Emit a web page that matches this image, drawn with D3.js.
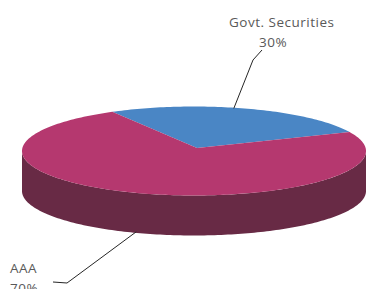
<!DOCTYPE html>
<html>
<head>
<meta charset="utf-8">
<script src="https://cdn.jsdelivr.net/npm/d3@7"></script>
<style>
  html, body { margin: 0; padding: 0; background: #fff; }
  svg { display: block; }
  text { font-family: "Open Sans", sans-serif; font-size: 13.5px; letter-spacing: 0.5px; fill: #595959; }
</style>
</head>
<body>
<svg id="chart" width="367" height="289"></svg>
<script>
const categories = ["Govt. Securities", "AAA"];
const values = [30, 70];
const pctLabels = ["30%", "70%"];

const topColors = ["#4a86c5", "#b5386f"];
const sideColors = ["#2f5a88", "#682a45"];

const svg = d3.select("#chart");

// ellipse geometry of the top face
const cx = 194, cy = 151, rx = 172, ry = 44.5, depth = 40;
const apex = [197, 148];
const warp = 0.17; // squeezes angles at the back, like a perspective view
const start = -0.59;

const pie = d3.pie().sort(null).value(d => d).startAngle(start).endAngle(start + 2 * Math.PI);
const arcs = pie(values);

const phi = t => t - warp * Math.sin(t);
const pt = (p, dy = 0) => [cx + rx * Math.sin(p), cy - ry * Math.cos(p) + dy];

function arcPoints(p0, p1, dy) {
  const n = Math.max(2, Math.ceil(Math.abs(p1 - p0) / 0.02));
  return d3.range(n + 1).map(i => pt(p0 + (p1 - p0) * i / n, dy));
}

const line = d3.line();

// side walls (only the front half is visible)
const g = svg.append("g");
arcs.forEach((a, i) => {
  let p0 = phi(a.startAngle), p1 = phi(a.endAngle);
  [-2 * Math.PI, 0, 2 * Math.PI].forEach(off => {
    const lo = Math.max(p0 + off, Math.PI / 2);
    const hi = Math.min(p1 + off, 3 * Math.PI / 2);
    if (hi <= lo) return;
    const top = arcPoints(lo, hi, 0);
    const bot = arcPoints(hi, lo, depth);
    g.append("path")
      .attr("d", line(top.concat(bot)) + "Z")
      .attr("fill", sideColors[i]);
  });
});

// top face slices
arcs.forEach((a, i) => {
  const pts = [apex].concat(arcPoints(phi(a.startAngle), phi(a.endAngle), 0));
  g.append("path")
    .attr("d", line(pts) + "Z")
    .attr("fill", topColors[i]);
});

// leader lines and labels
const labelPos = [
  { nudge: -10, bend: [253, 60], end: [262, 50], x: 229, y: 27, px: 259 },
  { nudge: 11, bend: [67, 283], end: [53, 282], x: 10, y: 273, px: 10 }
];

arcs.forEach((a, i) => {
  const m = phi((a.startAngle + a.endAngle) / 2);
  const front = Math.cos(m) < 0;
  const from = pt(m, front ? depth : 0);
  const lp = labelPos[i];
  from[0] += lp.nudge;
  svg.append("path")
    .attr("d", line([from, lp.bend, lp.end]))
    .attr("fill", "none")
    .attr("stroke", "#262626")
    .attr("stroke-width", 1);
  svg.append("text")
    .attr("x", lp.x)
    .attr("y", lp.y)
    .text(categories[i]);
  svg.append("text")
    .attr("x", lp.px)
    .attr("y", lp.y + 19.5)
    .text(pctLabels[i]);
});
</script>
</body>
</html>
